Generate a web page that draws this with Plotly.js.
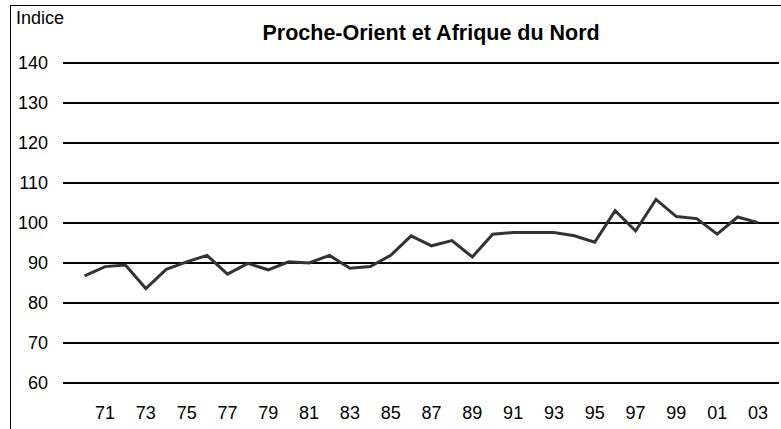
<!DOCTYPE html>
<html>
<head>
<meta charset="utf-8">
<script src="https://cdn.plot.ly/plotly-3.0.1.min.js"></script>
<style>
  html, body { margin: 0; padding: 0; background: #fff; }
  #wrap { position: relative; width: 781px; height: 429px; overflow: hidden; }
  #chart { width: 781px; height: 429px; }
  #frame { position: absolute; left: 10px; top: 5px; width: 800px; height: 500px;
           border-left: 1px solid #000; border-top: 1px solid #000; pointer-events: none; }
</style>
</head>
<body>
<div id="wrap">
  <div id="chart"></div>
  <div id="frame"></div>
</div>
<script>
const years = [1970,1971,1972,1973,1974,1975,1976,1977,1978,1979,1980,1981,1982,1983,1984,1985,1986,1987,1988,1989,1990,1991,1992,1993,1994,1995,1996,1997,1998,1999,2000,2001,2002,2003];
const indice = [86.8,89.1,89.5,83.6,88.4,90.3,91.9,87.2,89.9,88.3,90.3,90.0,91.9,88.7,89.1,91.9,96.8,94.3,95.6,91.5,97.2,97.6,97.6,97.6,96.8,95.2,103.1,98.0,105.9,101.6,101.1,97.2,101.5,100.1];
const tickYears = [1971,1973,1975,1977,1979,1981,1983,1985,1987,1989,1991,1993,1995,1997,1999,2001,2003];
const tickLabels = ['71','73','75','77','79','81','83','85','87','89','91','93','95','97','99','01','03'];
const yTicks = [60,70,80,90,100,110,120,130,140];
const titleText = 'Proche-Orient et Afrique du Nord';
const yLabel = 'Indice';

const font = 'Liberation Sans, Arial, sans-serif';

Plotly.newPlot('chart', [{
  x: years, y: indice, type: 'scatter', mode: 'lines',
  line: { color: '#333333', width: 3 },
  hoverinfo: 'skip'
}], {
  width: 781, height: 429,
  margin: { l: 63, r: 2, t: 43, b: 38 },
  paper_bgcolor: '#ffffff', plot_bgcolor: '#ffffff',
  showlegend: false,
  font: { family: font, size: 18, color: '#000' },
  title: { text: '<b>' + titleText + '</b>', font: { family: font, size: 21.5, color: '#000' },
           xref: 'container', yref: 'container', x: 0.552, xanchor: 'center', y: 1 - 32/429, yanchor: 'middle' },
  xaxis: { range: [1968.94, 2004.03], tickmode: 'array', tickvals: tickYears, ticktext: tickLabels,
           showgrid: false, zeroline: false, showline: false, ticks: '', ticklabelstandoff: 9, fixedrange: true,
           tickfont: { family: font, size: 18, color: '#000' } },
  yaxis: { range: [58, 145], tickmode: 'array', tickvals: yTicks, showgrid: true, gridcolor: '#000', gridwidth: 1.6,
           zeroline: false, showline: false, ticks: '', ticklabelstandoff: 14, fixedrange: true,
           tickfont: { family: font, size: 18, color: '#000' } },
  annotations: [{ text: yLabel, xref: 'paper', yref: 'paper', x: (14 - 63) / 716, xanchor: 'left',
                  y: 1 + (43 - 18) / 348, yanchor: 'middle', showarrow: false,
                  font: { family: font, size: 18, color: '#000' } }]
}, { displayModeBar: false, staticPlot: true });
</script>
</body>
</html>
